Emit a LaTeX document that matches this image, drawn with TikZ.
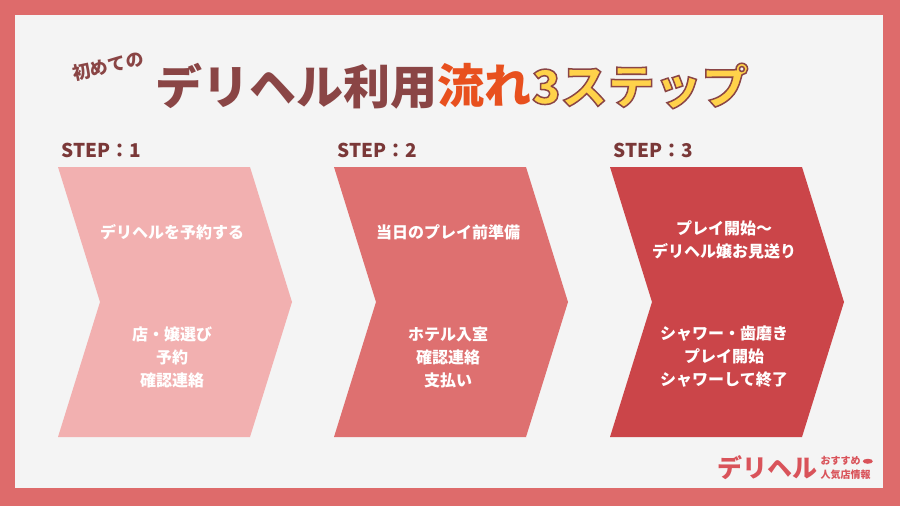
\documentclass[tikz,border=0pt]{standalone}
\usepackage{fontspec}
\setmainfont{Noto Sans CJK JP}
\usetikzlibrary{positioning}
\definecolor{frame}{HTML}{DE6B6B}
\definecolor{paper}{HTML}{F4F4F4}
\definecolor{brown}{HTML}{8A4545}
\definecolor{stepc}{HTML}{7A3838}
\definecolor{cA}{HTML}{F2B0B0}
\definecolor{cB}{HTML}{DE7070}
\definecolor{cC}{HTML}{CB4549}
\definecolor{flow}{HTML}{E8501E}
\definecolor{gold}{HTML}{FFD24A}
\definecolor{logo}{HTML}{D9535A}
\tikzset{
  steplabel/.style={anchor=west,text=stepc,font=\bfseries\fontsize{19}{19}\selectfont},
  intext/.style={text=white,align=center,font=\bfseries\fontsize{16}{23}\selectfont},
}
\begin{document}
\begin{tikzpicture}[x=1pt,y=-1pt]
      \fill[frame] (0,0) rectangle (900,506);
      \fill[paper] (15,15) rectangle (883,488);
      \useasboundingbox (0,0) rectangle (900,506);
      % title
      \node[rotate=12,inner sep=0,text=brown,font=\bfseries\fontsize{18}{18}\selectfont] (pre) at (108,66) {初めての};
      \node[anchor=west,text=brown,inner sep=0,font=\bfseries\fontsize{47}{47}\selectfont] (ta) at (155,86) {デリヘル利用};
      \node[anchor=west,text=flow,inner sep=0,font=\bfseries\fontsize{47}{47}\selectfont] (tb) at (ta.east) {流れ};
      \node[anchor=west,inner sep=0,text=gold,font=\bfseries\fontsize{47}{47}\selectfont] (tc) at (tb.east)
        {\special{pdf:code 2 Tr 1.5 w 0.54 0.27 0.27 RG}3ステップ\special{pdf:code 0 Tr}};
      % steps
      \foreach \i/\c/\y/\a/\b in {0/cA/232/デリヘルを予約する/{店・嬢選び\\予約\\確認連絡},
                               1/cB/232/当日のプレイ前準備/{ホテル入室\\確認連絡\\支払い},
                               2/cC/240/{プレイ開始～\\デリヘル嬢お見送り}/{シャワー・歯磨き\\プレイ開始\\シャワーして終了}}{
        \begin{scope}[xshift=\i*276]
          \fill[\c] (58,167) -- (250,167) -- (292,302) -- (250,437) -- (58,437) -- (100,302) -- cycle;
          \node[steplabel] (s\i) at (58,150) {STEP：\pgfmathparse{int(\i+1)}\pgfmathresult};
          \node[intext] (a\i) at (172,\y) {\a};
          \node[intext] (b\i) at (172,357) {\b};
        \end{scope}
      }
      % logo
      \node[anchor=west,inner sep=0,text=logo,font=\bfseries\fontsize{25}{25}\selectfont] (logo) at (717,468) {デリヘル};
      \node[anchor=south west,inner sep=0,text=logo,font=\bfseries\fontsize{10}{10}\selectfont] (la) at ([xshift=3pt,yshift=2pt]logo.east) {おすすめ};
      \node[anchor=north west,inner sep=0,text=logo,font=\bfseries\fontsize{10}{10}\selectfont] (lb) at ([xshift=3pt,yshift=-2pt]logo.east) {人気店情報};
      \fill[logo] ([xshift=7pt]la.east) ellipse (5 and 2.5);
\end{tikzpicture}
\end{document}
